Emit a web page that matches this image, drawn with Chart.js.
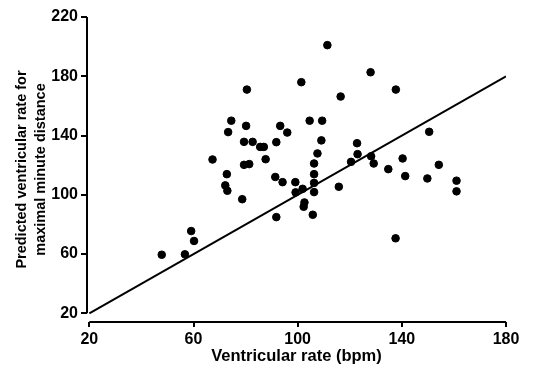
<!DOCTYPE html>
<html>
<head>
<meta charset="utf-8">
<script src="https://cdn.jsdelivr.net/npm/chart.js@4"></script>
<style>
  html, body { margin: 0; padding: 0; background: #fff; }
  #wrap { width: 534px; height: 369px; }
</style>
</head>
<body>
<div id="wrap"><canvas id="grafico"></canvas></div>
<script>
// valores
const rateX = [47.8, 56.7, 59.1, 60.2, 67.3, 72.2, 73, 72.8, 73.3, 74.5,
  78.7, 79.4, 82.7, 79.4, 81.4, 80.2, 80.5, 85.6, 87, 87.7,
  91.8, 91.4, 91.8, 93.3, 96, 94.2, 99.1, 99.2, 101.9, 102.6,
  102.3, 101.4, 104.6, 105.8, 106.3, 106.3, 106.3, 106.3, 107.6, 109.1,
  109.4, 111.4, 115.8, 116.5, 120.5, 122.8, 123, 128.2, 129.2, 128,
  134.8, 137.7, 137.6, 140.3, 141.3, 149.8, 150.5, 154.2, 161, 161];
const predY = [59.5, 59.8, 75.5, 68.8, 123.8, 106.3, 102.7, 113.9, 142.3, 150,
  97, 135.7, 135.7, 120.2, 120.7, 146.5, 171, 132.3, 132.3, 124,
  135.5, 112, 84.9, 146.5, 142, 108.5, 108.5, 101.6, 104, 94.8,
  91.9, 176, 150, 86.5, 121.1, 113.9, 108, 101.8, 127.9, 136.7,
  150, 201, 105.4, 166.3, 122.2, 134.8, 127.4, 126, 121.1, 182.7,
  117.3, 171, 70.6, 124.5, 112.6, 111, 142.5, 120.2, 109.5, 102.3];
const lineX = [20, 180];
const lineY = [20, 180];
const xTicks = [20, 60, 100, 140, 180];
const yTicks = [20, 60, 100, 140, 180, 220];

const fonte = "'Liberation Sans', Arial, sans-serif";

// desenha os eixos separados (estilo da figura)
const eixos = {
  id: "eixos",
  afterDraw(chart) {
    const { ctx, chartArea, scales } = chart;
    const x = scales.x, y = scales.y;
    ctx.save();
    ctx.strokeStyle = "#000";
    ctx.lineWidth = 2;
    ctx.beginPath();
    ctx.moveTo(chartArea.left, y.getPixelForValue(yTicks[0]));
    ctx.lineTo(chartArea.left, y.getPixelForValue(yTicks[yTicks.length - 1]));
    ctx.moveTo(x.getPixelForValue(xTicks[0]), chartArea.bottom);
    ctx.lineTo(x.getPixelForValue(xTicks[xTicks.length - 1]), chartArea.bottom);
    ctx.stroke();
    ctx.restore();
  },
};

new Chart(document.getElementById("grafico"), {
  data: {
    datasets: [
      {
        type: "scatter",
        data: rateX.map((v, i) => ({ x: v, y: predY[i] })),
        backgroundColor: "#000",
        borderColor: "#000",
        pointRadius: 3.8,
        pointHoverRadius: 3.8,
      },
      {
        type: "line",
        data: lineX.map((v, i) => ({ x: v, y: lineY[i] })),
        borderColor: "#000",
        borderWidth: 2,
        pointRadius: 0,
        fill: false,
      },
    ],
  },
  plugins: [eixos],
  options: {
    responsive: true,
    maintainAspectRatio: false,
    animation: false,
    layout: { padding: { top: 17, right: 28, bottom: 0, left: 0 } },
    plugins: { legend: { display: false }, tooltip: { enabled: false } },
    scales: {
      x: {
        type: "linear",
        min: 19.1,
        max: 180,
        afterFit: (s) => { s.height = 47; },
        afterBuildTicks: (s) => { s.ticks = xTicks.map((v) => ({ value: v })); },
        border: { display: false },
        grid: { drawOnChartArea: false, drawTicks: true, tickLength: 5, color: "#000", lineWidth: 2 },
        ticks: { color: "#000", padding: 3, maxRotation: 0, font: { family: fonte, size: 16, weight: "bold" } },
        title: {
          display: true,
          text: "Ventricular rate (bpm)",
          color: "#000",
          padding: { top: 0, bottom: 3 },
          font: { family: fonte, size: 16.5, weight: "bold", lineHeight: 1.2 },
        },
      },
      y: {
        type: "linear",
        min: 14.1,
        max: 220,
        afterFit: (s) => { s.width = 87; },
        afterBuildTicks: (s) => { s.ticks = yTicks.map((v) => ({ value: v })); },
        border: { display: false },
        grid: { drawOnChartArea: false, drawTicks: true, tickLength: 6, color: "#000", lineWidth: 2 },
        ticks: { color: "#000", padding: 3, font: { family: fonte, size: 16, weight: "bold" } },
        title: {
          display: true,
          text: ["Predicted ventricular rate for", "maximal minute distance"],
          color: "#000",
          padding: { top: 13, bottom: 0 },
          font: { family: fonte, size: 14.5, weight: "bold", lineHeight: 1.31 },
        },
      },
    },
  },
});
</script>
</body>
</html>
